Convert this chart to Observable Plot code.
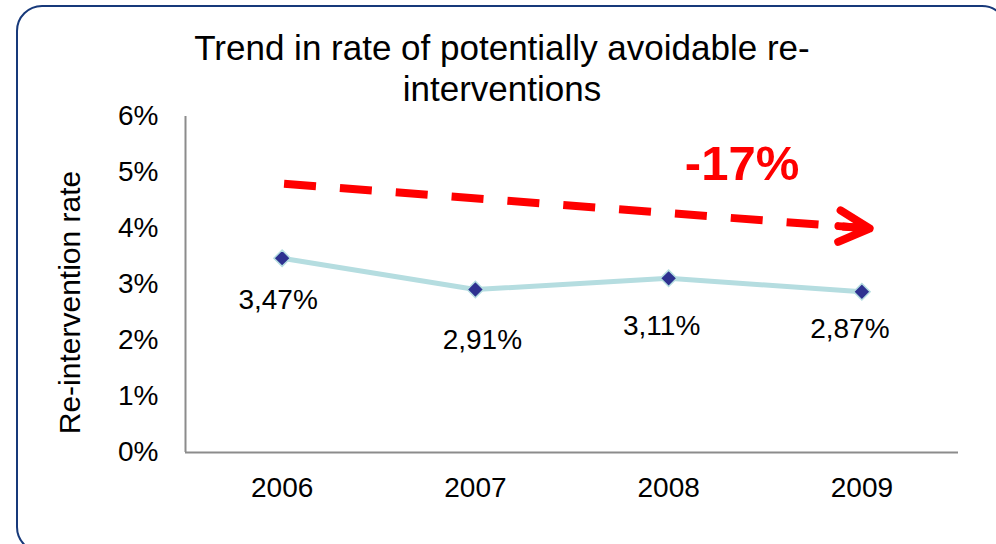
<!DOCTYPE html>
<html>
<head>
<meta charset="utf-8">
<script src="https://cdn.jsdelivr.net/npm/d3@7"></script>
<script src="https://cdn.jsdelivr.net/npm/@observablehq/plot@0.6"></script>
<style>
  html, body { margin: 0; padding: 0; background: #fff; overflow: hidden; }
  #wrap { position: relative; width: 996px; height: 544px; overflow: hidden; font-family: "Liberation Sans", Arial, sans-serif; }
  #frame { position: absolute; left: 16px; top: 5px; width: 992px; height: 548px; box-sizing: border-box;
           border: 2px solid #17397a; border-radius: 26px; pointer-events: none; }
  #title { position: absolute; left: 4px; top: 27px; width: 996px; text-align: center;
           font-size: 35px; line-height: 41px; color: #000; }
  #chart { position: absolute; left: 0; top: 0; }
</style>
</head>
<body>
<div id="wrap">
  <div id="chart"></div>
  <div id="frame"></div>
  <div id="title">Trend in rate of potentially avoidable re-<br>interventions</div>
</div>
<script>
// Re-intervention rate per year (percent)
const years = [2006, 2007, 2008, 2009];
const rates = [3.47, 2.91, 3.11, 2.87];
const rateTicks = [0, 1, 2, 3, 4, 5, 6];
const yAxisLabel = "Re-intervention rate";

// Trend annotation: dashed arrow and its label (data units)
const trendLabel = "-17%";
const trendFrom = {year: 2006.01, rate: 4.80};
const trendTo = {year: 2009.04, rate: 4.00};
const trendLabelAt = {year: 2008.38, rate: 4.86};

const fmtPct = (v) => v.toFixed(2).replace(".", ",") + "%";
const points = years.map((year, i) => ({year, rate: rates[i], label: fmtPct(rates[i])}));

// Per-label placement relative to its marker (pixels)
const labelNudge = [[-4, 42], [7, 50], [-7, 48], [-12, 37]];

const font = "'Liberation Sans', Arial, sans-serif";
const axisGray = "#8c8c8c";
const lineBlue = "#b5dde0";
const markerNavy = "#2e3190";
const red = "#ff0000";

const chart = Plot.plot({
  width: 996,
  height: 544,
  marginLeft: 185,
  marginRight: 38,
  marginTop: 116,
  marginBottom: 92,
  style: {fontFamily: font, fontSize: "28px", color: "#000", background: "transparent", overflow: "visible"},
  x: {type: "linear", domain: [2005.5, 2009.5]},
  y: {domain: [0, 6]},
  marks: [
    Plot.axisY({ticks: rateTicks, tickSize: 0, tickPadding: 27, tickFormat: (d) => d + "%", label: null, fontSize: 28}),
    Plot.axisX({ticks: years, tickSize: 0, tickPadding: 25, tickFormat: (d) => String(d), label: null, fontSize: 28}),
    Plot.ruleX([2005.5], {stroke: axisGray, strokeWidth: 2}),
    Plot.ruleY([0], {stroke: axisGray, strokeWidth: 2}),
    Plot.text([yAxisLabel], {frameAnchor: "left", textAnchor: "middle", dx: -115, dy: 18, rotate: -90, fontSize: 30, fill: "#000"}),
    // trend arrow: dashed shaft plus a solid head
    Plot.link([trendFrom], {x1: "year", y1: "rate", x2: trendTo.year, y2: trendTo.rate,
      stroke: red, strokeWidth: 8, strokeDasharray: "32,24", strokeLinecap: "butt"}),
    Plot.arrow([trendFrom], {x1: "year", y1: "rate", x2: trendTo.year, y2: trendTo.rate,
      stroke: red, strokeWidth: 8, headLength: 6.4, headAngle: 55, insetStart: 556,
      strokeLinecap: "round", strokeLinejoin: "round"}),
    Plot.text([trendLabelAt], {x: "year", y: "rate", text: () => trendLabel, lineAnchor: "bottom",
      fill: red, fontSize: 49, fontWeight: "bold"}),
    // series
    Plot.line(points, {x: "year", y: "rate", stroke: lineBlue, strokeWidth: 5}),
    Plot.dot(points, {x: "year", y: "rate", symbol: "diamond2", r: 7.4, fill: markerNavy, stroke: lineBlue, strokeWidth: 1.5}),
    ...points.map((p, i) => Plot.text([p], {x: "year", y: "rate", text: "label",
      dx: labelNudge[i][0], dy: labelNudge[i][1], fontSize: 28, fill: "#000"}))
  ]
});

document.getElementById("chart").appendChild(chart);
</script>
</body>
</html>
